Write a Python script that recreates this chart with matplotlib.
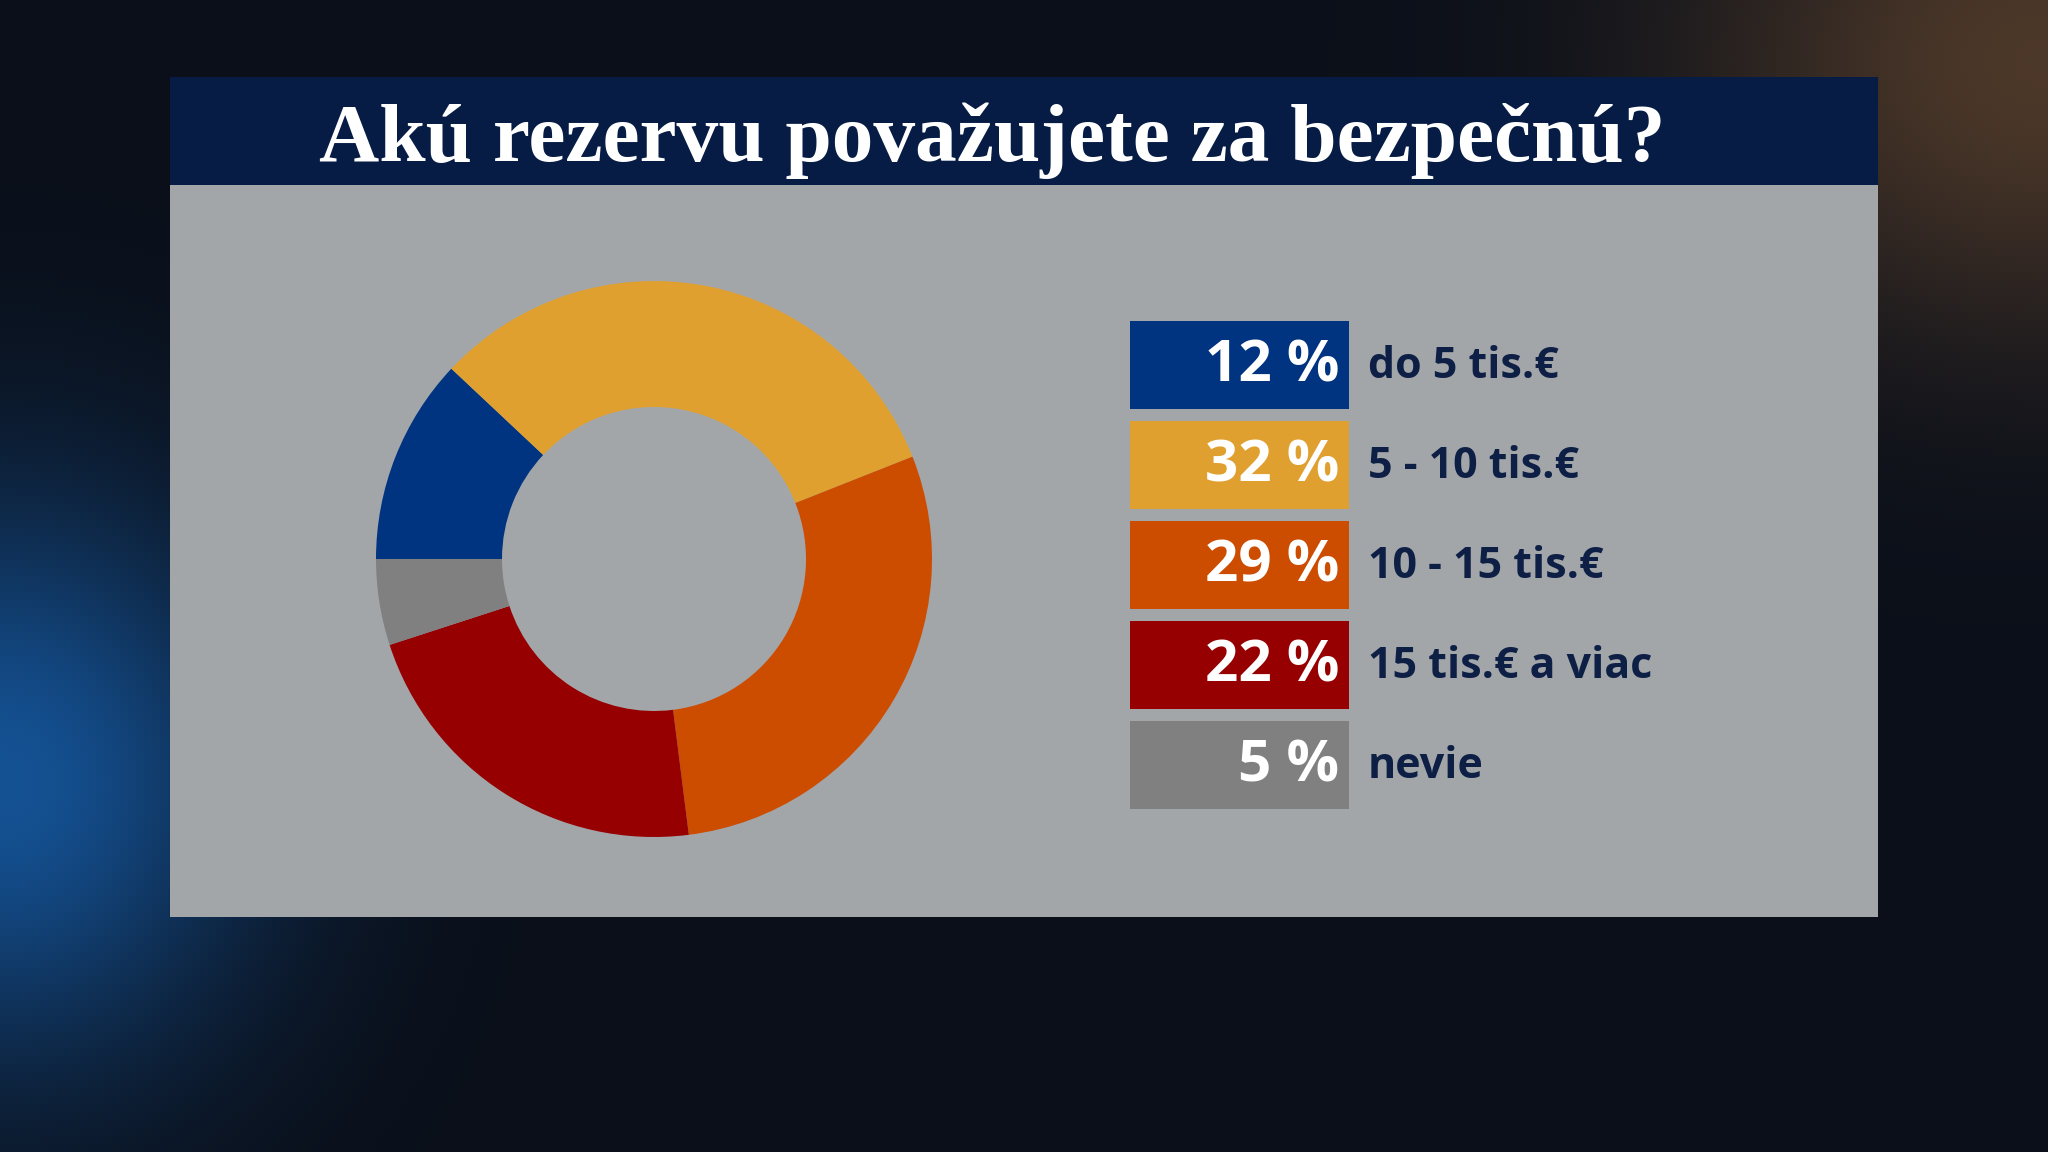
import numpy as np
import matplotlib
matplotlib.use('Agg')
import matplotlib.pyplot as plt
from matplotlib.patches import Rectangle

W, H = 2048, 1152

TITLE = 'Akú rezervu považujete za bezpečnú?'
categories = ['do 5 tis.€', '5 - 10 tis.€', '10 - 15 tis.€', '15 tis.€ a viac', 'nevie']
shares = [12, 32, 29, 22, 5]
colors = ['#003380', '#e0a030', '#cc4c00', '#960000', '#808080']

NAVY = '#061c44'
PANEL = '#a3a6a9'

fig = plt.figure(figsize=(W / 100, H / 100), dpi=100)

# full-figure axes in pixel coords (y down)
ax = fig.add_axes([0, 0, 1, 1])
ax.set_xlim(0, W)
ax.set_ylim(H, 0)
ax.axis('off')

# dark backdrop: blue glow low left, warm glow top right
xx, yy = np.meshgrid(np.linspace(0, 1, 256), np.linspace(0, 1, 144))
base = np.array([0.04, 0.06, 0.10])
blue = np.exp(-((xx - 0.0) ** 2 / 0.015 + (yy - 0.68) ** 2 / 0.06))
warm = np.exp(-((xx - 1.0) ** 2 / 0.03 + (yy - 0.05) ** 2 / 0.06))
img = (base[None, None, :]
       + blue[..., None] * np.array([0.04, 0.26, 0.48])[None, None, :]
       + warm[..., None] * np.array([0.26, 0.16, 0.06])[None, None, :])
ax.imshow(np.clip(img, 0, 1), extent=(0, W, H, 0), aspect='auto', zorder=0)

# panel + title bar
ax.add_patch(Rectangle((170, 185), 1708, 732, facecolor=PANEL, edgecolor='none', zorder=1))
ax.add_patch(Rectangle((170, 77), 1708, 108, facecolor=NAVY, edgecolor='none', zorder=1))
ax.text(992, 161, TITLE, ha='center', va='baseline', color='white',
        fontsize=60, fontweight='bold', family='Liberation Serif', zorder=3)

# legend boxes
box_x, box_w, box_h = 1130, 219, 88
top0, pitch = 321, 100
for i, (cat, val, col) in enumerate(zip(categories, shares, colors)):
    top = top0 + i * pitch
    ax.add_patch(Rectangle((box_x, top), box_w, box_h, facecolor=col,
                           edgecolor='none', zorder=2))
    cy = top + box_h / 2
    ax.text(box_x + box_w - 10, cy + 1, f'{val} %', ha='right', va='center',
            color='white', fontsize=42, fontweight='bold', family='Open Sans', zorder=3)
    ax.text(1368, cy + 1, cat, ha='left', va='center', color='#0d1f45',
            fontsize=31, fontweight='bold', family='Open Sans', zorder=3)

# donut
cx, cy, r_out, r_in = 654, 559, 278, 152
half = 300
ax2 = fig.add_axes([(cx - half) / W, (H - cy - half) / H, 2 * half / W, 2 * half / H])
ax2.pie(shares, colors=colors, startangle=180, counterclock=False,
        radius=r_out, wedgeprops=dict(width=r_out - r_in, edgecolor='none', linewidth=0))
ax2.set_xlim(-half, half)
ax2.set_ylim(-half, half)
ax2.set_aspect('auto')
ax2.axis('off')

fig.savefig('out.png', dpi=100)
